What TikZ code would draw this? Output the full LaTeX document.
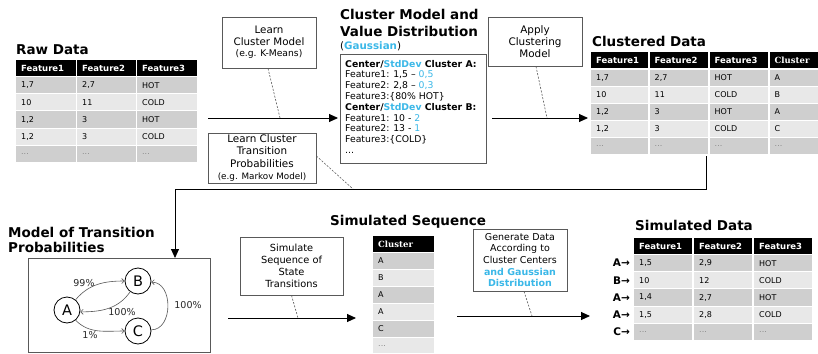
\documentclass[tikz,border=0pt]{standalone}
\usepackage{fontspec}
\setmainfont{DejaVu Sans}
\newfontfamily\dvserif{DejaVu Serif}
\usetikzlibrary{arrows.meta}
\definecolor{cy}{HTML}{3BB8E8}
\definecolor{dk}{HTML}{CFCFCF}
\definecolor{lt}{HTML}{E8E8E8}
\definecolor{bd}{HTML}{595959}
\definecolor{dotc}{HTML}{8A8A8A}
\newcommand{\fsz}[1]{\fontsize{#1}{#1}\selectfont}
\newcommand{\hd}[1]{\textcolor{white}{\bfseries\fontsize{8.5}{9}\selectfont #1}}
\newcommand{\hds}[1]{\textcolor{white}{\dvserif\bfseries\fontsize{8.5}{9}\selectfont #1}}
\newcommand{\dts}{\textcolor{dotc}{...}}
\newcommand{\tc}[7]{\fill[#6] (#2,#4) rectangle (#3,#5);\node[cell,anchor=west] (#1) at ({#2+5},{(#4+#5)/2}) {#7};}
\begin{document}
\begin{tikzpicture}[x=1pt,y=-1pt,
  cell/.style={inner sep=0pt, font=\fontsize{8}{9}\selectfont},
  ttl/.style={font=\fontsize{13.5}{15}\selectfont\bfseries, inner sep=0pt, anchor=base west},
  box/.style={draw=bd, line width=0.8pt, align=center, inner sep=0pt},
  conn/.style={line width=0.9pt, -{Triangle[length=9pt,width=8pt]}},
  dsh/.style={draw=bd, line width=0.6pt, dash pattern=on 2pt off 1.5pt},
  st/.style={circle, draw, line width=0.8pt, minimum size=26pt, inner sep=0pt, font=\fontsize{14.5}{14.5}\selectfont},
  ga/.style={draw=bd, line width=0.6pt, -{Straight Barb[length=2.5pt,width=5pt]}},
  gl/.style={font=\fontsize{9.5}{10}\selectfont, inner sep=0pt, text=black!85},
  cmt/.style={inner sep=0pt, anchor=base west, font=\fontsize{9.3}{10}\selectfont},
  lab/.style={font=\fontsize{10.5}{10.5}\selectfont\bfseries, inner sep=0pt, anchor=east}]
\useasboundingbox (0,0) rectangle (818,353);
\fill[white] (0,0) rectangle (818,353);

% ---------- Raw Data ----------
\node[ttl] (rawt) at (16,54) {Raw Data};
\tc{rh1}{16}{76}{60}{76}{black}{\hd{Feature1}}
\tc{rh2}{77}{136}{60}{76}{black}{\hd{Feature2}}
\tc{rh3}{137}{197}{60}{76}{black}{\hd{Feature3}}
\tc{r11}{16}{76}{77}{93.2}{dk}{1,7}
\tc{r12}{77}{136}{77}{93.2}{dk}{2,7}
\tc{r13}{137}{197}{77}{93.2}{dk}{HOT}
\tc{r21}{16}{76}{94.2}{110.4}{lt}{10}
\tc{r22}{77}{136}{94.2}{110.4}{lt}{11}
\tc{r23}{137}{197}{94.2}{110.4}{lt}{COLD}
\tc{r31}{16}{76}{111.4}{127.6}{dk}{1,2}
\tc{r32}{77}{136}{111.4}{127.6}{dk}{3}
\tc{r33}{137}{197}{111.4}{127.6}{dk}{HOT}
\tc{r41}{16}{76}{128.6}{144.8}{lt}{1,2}
\tc{r42}{77}{136}{128.6}{144.8}{lt}{3}
\tc{r43}{137}{197}{128.6}{144.8}{lt}{COLD}
\tc{r51}{16}{76}{145.8}{162}{dk}{\dts}
\tc{r52}{77}{136}{145.8}{162}{dk}{\dts}
\tc{r53}{137}{197}{145.8}{162}{dk}{\dts}

% ---------- Learn boxes ----------
\node[box, minimum width=94pt, minimum height=51pt, font=\fontsize{10.3}{11.6}\selectfont] (lcm) at (269,42.5)
  {Learn\\Cluster Model\\{\fontsize{9.2}{11.6}\selectfont (e.g. K-Means)}};
\node[box, minimum width=108pt, minimum height=50pt, font=\fontsize{10.4}{12.3}\selectfont] (lct) at (262,158)
  {Learn Cluster\\Transition\\Probabilities\\{\fontsize{8.8}{12}\selectfont (e.g. Markov Model)}};

% ---------- Cluster model ----------
\node[ttl] (cmt1) at (340,20) {Cluster Model and};
\node[ttl] (cmt2) at (340,37) {Value Distribution};
\node[inner sep=0pt, anchor=base west, font=\fontsize{10.3}{11}\selectfont] (cmt3) at (340,49.5) {(\textcolor{cy}{\bfseries Gaussian})};
\node[draw=bd, line width=0.8pt, minimum width=146pt, minimum height=109pt, inner sep=0pt] (cm) at (413,108.5) {};
\node[cmt] (cl1) at (345,67) {\bfseries Center/\textcolor{cy}{StdDev} Cluster A:};
\node[cmt] (cl2) at (345,77.8) {Feature1: 1,5 – \textcolor{cy}{0,5}};
\node[cmt] (cl3) at (345,88.6) {Feature2: 2,8 – \textcolor{cy}{0,3}};
\node[cmt] (cl4) at (345,99.4) {Feature3:\{80\% HOT\}};
\node[cmt] (cl5) at (345,110.2) {\bfseries Center/\textcolor{cy}{StdDev} Cluster B:};
\node[cmt] (cl6) at (345,121) {Feature1: 10 - \textcolor{cy}{2}};
\node[cmt] (cl7) at (345,131.8) {Feature2: 13 - \textcolor{cy}{1}};
\node[cmt] (cl8) at (345,142.6) {Feature3:\{COLD\}};
\node[cmt] (cl9) at (345,153.4) {...};

% ---------- Apply clustering ----------
\node[box, minimum width=94pt, minimum height=49pt, font=\fontsize{10.4}{12}\selectfont] (acm) at (535,41.5)
  {Apply\\Clustering\\Model};

% ---------- Clustered Data ----------
\node[ttl] (cdt) at (592,47) {Clustered Data};
\tc{ch1}{591}{648}{52}{68}{black}{\hd{Feature1}}
\tc{ch2}{649.5}{708}{52}{68}{black}{\hd{Feature2}}
\tc{ch3}{709.5}{768}{52}{68}{black}{\hd{Feature3}}
\tc{ch4}{769.5}{818}{52}{68}{black}{\hds{Cluster}}
\tc{c11}{591}{648}{69.5}{85.6}{dk}{1,7}
\tc{c12}{649.5}{708}{69.5}{85.6}{dk}{2,7}
\tc{c13}{709.5}{768}{69.5}{85.6}{dk}{HOT}
\tc{c14}{769.5}{818}{69.5}{85.6}{dk}{A}
\tc{c21}{591}{648}{86.6}{102.7}{lt}{10}
\tc{c22}{649.5}{708}{86.6}{102.7}{lt}{11}
\tc{c23}{709.5}{768}{86.6}{102.7}{lt}{COLD}
\tc{c24}{769.5}{818}{86.6}{102.7}{lt}{B}
\tc{c31}{591}{648}{103.7}{119.8}{dk}{1,2}
\tc{c32}{649.5}{708}{103.7}{119.8}{dk}{3}
\tc{c33}{709.5}{768}{103.7}{119.8}{dk}{HOT}
\tc{c34}{769.5}{818}{103.7}{119.8}{dk}{A}
\tc{c41}{591}{648}{120.8}{136.9}{lt}{1,2}
\tc{c42}{649.5}{708}{120.8}{136.9}{lt}{3}
\tc{c43}{709.5}{768}{120.8}{136.9}{lt}{COLD}
\tc{c44}{769.5}{818}{120.8}{136.9}{lt}{C}
\tc{c51}{591}{648}{137.9}{154}{dk}{\dts}
\tc{c52}{649.5}{708}{137.9}{154}{dk}{\dts}
\tc{c53}{709.5}{768}{137.9}{154}{dk}{\dts}
\tc{c54}{769.5}{818}{137.9}{154}{dk}{\dts}

% ---------- Model of transition probabilities ----------
\node[ttl] (mtt1) at (8,237) {Model of Transition};
\node[ttl] (mtt2) at (8,252) {Probabilities};
\node[draw=bd, line width=0.8pt, minimum width=182pt, minimum height=94pt, inner sep=0pt] (mt) at (119,305) {};
\node[st] (A) at (67,310) {A};
\node[st] (B) at (138,281) {B};
\node[st] (C) at (138,331) {C};
\draw[ga] (A.50) to[out=50,in=180] (B.180);
\draw[ga] (B.234) to[out=235,in=0] (A.352);
\draw[ga] (A.310) to[out=-45,in=180] (C.180);
\draw[ga] (C.5) .. controls +(22,0) and +(22,0) .. (B.355);
\node[gl] (l1) at (84,283) {99\%};
\node[gl] (l2) at (122,312) {100\%};
\node[gl] (l3) at (90,335) {1\%};
\node[gl] (l4) at (188,305) {100\%};

% ---------- Simulate box ----------
\node[box, minimum width=103pt, minimum height=58pt, font=\fontsize{9.8}{12}\selectfont] (sim) at (291.5,266)
  {Simulate\\Sequence of\\State\\Transitions};

% ---------- Simulated Sequence ----------
\node[ttl] (sst) at (330,225) {Simulated Sequence};
\tc{sh}{373}{434}{236}{252}{black}{\hds{Cluster}}
\tc{s1}{373}{434}{253}{269}{dk}{A}
\tc{s2}{373}{434}{270}{286}{lt}{B}
\tc{s3}{373}{434}{287}{303}{dk}{A}
\tc{s4}{373}{434}{304}{320}{lt}{A}
\tc{s5}{373}{434}{321}{337}{dk}{C}
\tc{s6}{373}{434}{338}{353}{lt}{\dts}

% ---------- Generate box ----------
\node[box, minimum width=94pt, minimum height=62pt, font=\fontsize{9.5}{11.6}\selectfont] (gen) at (520,260)
  {Generate Data\\According to\\Cluster Centers\\\textcolor{cy}{\bfseries and Gaussian}\\\textcolor{cy}{\bfseries Distribution}};

% ---------- Simulated Data ----------
\node[ttl] (sdt) at (635,230) {Simulated Data};
\tc{dh1}{634}{692}{238}{254}{black}{\hd{Feature1}}
\tc{dh2}{694}{752}{238}{254}{black}{\hd{Feature2}}
\tc{dh3}{754}{812}{238}{254}{black}{\hd{Feature3}}
\tc{d11}{634}{692}{255}{271.2}{dk}{1,5}
\tc{d12}{694}{752}{255}{271.2}{dk}{2,9}
\tc{d13}{754}{812}{255}{271.2}{dk}{HOT}
\tc{d21}{634}{692}{272.2}{288.4}{lt}{10}
\tc{d22}{694}{752}{272.2}{288.4}{lt}{12}
\tc{d23}{754}{812}{272.2}{288.4}{lt}{COLD}
\tc{d31}{634}{692}{289.4}{305.6}{dk}{1,4}
\tc{d32}{694}{752}{289.4}{305.6}{dk}{2,7}
\tc{d33}{754}{812}{289.4}{305.6}{dk}{HOT}
\tc{d41}{634}{692}{306.6}{322.8}{lt}{1,5}
\tc{d42}{694}{752}{306.6}{322.8}{lt}{2,8}
\tc{d43}{754}{812}{306.6}{322.8}{lt}{COLD}
\tc{d51}{634}{692}{323.8}{340}{dk}{\dts}
\tc{d52}{694}{752}{323.8}{340}{dk}{\dts}
\tc{d53}{754}{812}{323.8}{340}{dk}{\dts}
\node[lab] (la1) at (630,263.1) {A→};
\node[lab] (la2) at (630,280.3) {B→};
\node[lab] (la3) at (630,297.5) {A→};
\node[lab] (la4) at (630,314.7) {A→};
\node[lab] (la5) at (630,331.9) {C→};

% ---------- Connectors ----------
\coordinate (a1s) at (208,118); \coordinate (a1e) at (338,118);
\coordinate (a2s) at (492,118); \coordinate (a2e) at (588,118);
\coordinate (a3s) at (706,156); \coordinate (a3m1) at (706,189); \coordinate (a3m2) at (175,189); \coordinate (a3e) at (175,258);
\coordinate (a4s) at (228,318); \coordinate (a4e) at (356,318);
\coordinate (a5s) at (457,316); \coordinate (a5e) at (590,316);
\draw[conn] (a1s) -- (a1e);
\draw[conn] (a2s) -- (a2e);
\draw[conn] (a3s) -- (a3m1) -- (a3m2) -- (a3e);
\draw[conn] (a4s) -- (a4e);
\draw[conn] (a5s) -- (a5e);

% dashed annotation lines
\coordinate (d1) at (280,118);
\coordinate (d2) at (353,189);
\coordinate (d3) at (547,118);
\coordinate (d4) at (298,318);
\coordinate (d5) at (532,316);
\draw[dsh] ([xshift=-1pt]lcm.south) -- (d1);
\draw[dsh] ([yshift=2pt]lct.east) -- (d2);
\draw[dsh] ([xshift=1pt]acm.south) -- (d3);
\draw[dsh] (sim.south) -- (d4);
\draw[dsh] ([xshift=4pt]gen.south) -- (d5);
\end{tikzpicture}
\end{document}
